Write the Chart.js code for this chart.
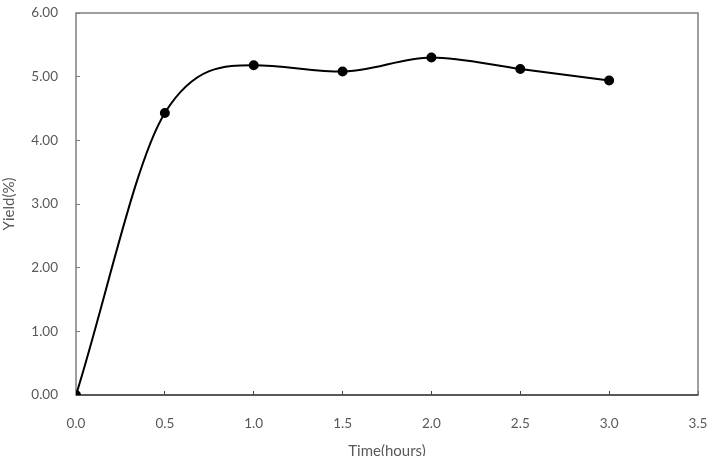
<!DOCTYPE html>
<html>
<head>
<meta charset="utf-8">
<script src="https://cdn.jsdelivr.net/npm/chart.js@4/dist/chart.umd.min.js"></script>
<style>
  html, body { margin: 0; padding: 0; background: #fff; }
  #wrap { width: 710px; height: 456px; }
</style>
</head>
<body>
<div id="wrap"><canvas id="yield"></canvas></div>
<script>
const hours = [0.0, 0.5, 1.0, 1.5, 2.0, 2.5, 3.0]
const yieldPct = [0.00, 4.43, 5.18, 5.08, 5.30, 5.12, 4.94]

const xTitle = 'Time(hours)'
const yTitle = 'Yield(%)'

const ctx = document.getElementById('yield')

// box round the plot area, like the Excel frame
const frame = {
  id: 'frame',
  beforeDatasetsDraw(chart) {
    const a = chart.chartArea
    const c = chart.ctx
    c.save()
    c.strokeStyle = '#7f7f7f'
    c.lineWidth = 1.5
    c.strokeRect(a.left, a.top, a.right - a.left, a.bottom - a.top)
    c.strokeStyle = '#404040'
    c.beginPath()
    c.moveTo(a.left, a.bottom)
    c.lineTo(a.right, a.bottom)
    c.stroke()
    c.restore()
  }
}

const tickFont = { family: 'Lato, "Open Sans", sans-serif', size: 13.5 }
const titleFont = { family: 'Lato, "Open Sans", sans-serif', size: 15 }

window.myChart = new Chart(ctx, {
  type: 'line',
  data: {
    datasets: [{
      label: 'Yield',
      data: hours.map((h, i) => ({ x: h, y: yieldPct[i] })),
      borderColor: '#000',
      backgroundColor: '#000',
      borderWidth: 2,
      pointRadius: 4,
      pointHoverRadius: 4,
      cubicInterpolationMode: 'monotone',
      fill: false
    }]
  },
  options: {
    responsive: true,
    maintainAspectRatio: false,
    animation: false,
    layout: { padding: { top: 13, right: 12, left: 0, bottom: 0 } },
    plugins: {
      legend: { display: false },
      tooltip: { enabled: false }
    },
    scales: {
      x: {
        type: 'linear',
        min: 0,
        max: 3.5,
        grid: { drawOnChartArea: false, tickLength: -4, color: '#404040' },
        border: { display: false },
        ticks: {
          stepSize: 0.5,
          padding: 25,
          color: '#595959',
          font: tickFont,
          callback: v => v.toFixed(1)
        },
        title: {
          display: true,
          text: xTitle,
          color: '#595959',
          font: titleFont,
          padding: { top: 8, bottom: -4 }
        },
        afterFit: s => {
          s.height = 61
          s.paddingLeft = 0
          s.paddingRight = 0
        }
      },
      y: {
        min: 0,
        max: 6,
        grid: { drawOnChartArea: false, tickLength: -4, color: '#7f7f7f' },
        border: { display: false },
        ticks: {
          stepSize: 1,
          padding: 22,
          color: '#595959',
          font: tickFont,
          callback: v => v.toFixed(2)
        },
        title: {
          display: true,
          text: yTitle,
          color: '#595959',
          font: titleFont,
          padding: { top: 0, bottom: 0 }
        },
        afterFit: s => {
          s.width = 76
          s.paddingTop = 0
          s.paddingBottom = 0
        }
      }
    }
  },
  plugins: [frame]
})
</script>
</body>
</html>
